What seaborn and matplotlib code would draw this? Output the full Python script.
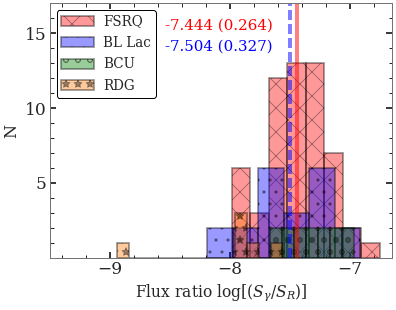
import numpy as np
import seaborn as sns
import matplotlib.pyplot as plt

# histogram ranges (min, max) and counts per bin
fsrq_range = (-7.986, -6.750)
fsrq_counts = [6, 3, 12, 13, 13, 7, 2, 1]
bllac_range = (-8.189, -6.914)
bllac_counts = [2, 2, 6, 3, 6, 2]
bcu_range = (-7.665, -6.970)
bcu_counts = [2, 2, 2, 2, 2, 2, 2]
rdg_range = (-8.939, -7.563)
rdg_counts = [1, 0, 0, 0, 0, 0, 0, 0, 0, 0, 3, 1, 0, 1]

labels = ['FSRQ', 'BL Lac', 'BCU', 'RDG']
colors = ['red', 'blue', 'green', 'tab:orange']
hatches = ['x', '.', 'o', '*']
means = [-7.444, -7.504]
stds = [0.264, 0.327]

sns.set_style('ticks')
plt.rcParams['font.family'] = ['DejaVu Serif']
plt.rcParams['mathtext.fontset'] = 'dejavuserif'
plt.rcParams['hatch.linewidth'] = 0.8

# 72 dpi so that 1 pt = 1 px (and hatch spacing matches)
fig = plt.figure(figsize=(396 / 72, 310 / 72), dpi=72)
ax = fig.add_axes([0.126, 0.168, 0.864, 0.822])

groups = [(fsrq_range, fsrq_counts), (bllac_range, bllac_counts),
          (bcu_range, bcu_counts), (rdg_range, rdg_counts)]
for (rng, counts), lab, col, h in zip(groups, labels, colors, hatches):
    edges = np.linspace(rng[0], rng[1], len(counts) + 1)
    centers = 0.5 * (edges[:-1] + edges[1:])
    sns.histplot(x=list(centers), weights=list(counts), bins=edges.tolist(),
                 ax=ax, color=col, alpha=0.4, edgecolor=(0, 0, 0, 0.4),
                 linewidth=1.8, hatch=h, label=lab)

ax.axvline(means[0], color='red', lw=4, alpha=0.5)
ax.axvline(means[1], color='blue', lw=4, alpha=0.5, ls=(0, (2.5, 1.0)))
ax.text(0.335, 0.912, '%.3f (%.3f)' % (means[0], stds[0]), color='red',
        fontsize=15, transform=ax.transAxes, va='center')
ax.text(0.335, 0.83, '%.3f (%.3f)' % (means[1], stds[1]), color='blue',
        fontsize=15, transform=ax.transAxes, va='center')

ax.set_xlim(-9.5, -6.65)
ax.set_ylim(0, 17)
ax.set_xticks([-9, -8, -7])
ax.set_xticks(np.arange(-9.4, -6.7, 0.2), minor=True)
ax.set_yticks([5, 10, 15])
ax.set_yticks(range(1, 17), minor=True)
ax.tick_params(which='both', direction='in', top=True, right=True, labelsize=17)
ax.tick_params(which='major', length=6, width=1.8)
ax.tick_params(which='minor', length=3.5, width=1.0)
for sp in ax.spines.values():
    sp.set_color('0.45')
    sp.set_linewidth(1.0)

ax.set_xlabel(r'Flux ratio $\log[(S_{\gamma}/S_{R})]$', fontsize=15.5)
ax.set_ylabel('N', fontsize=16)

leg = ax.legend(loc='upper left', fontsize=13.5, borderaxespad=0.5,
                borderpad=0.35, handlelength=2.4, handleheight=0.8,
                labelspacing=0.55, handletextpad=0.7, fancybox=True,
                framealpha=1)
leg.get_frame().set_edgecolor('black')

plt.savefig('out.png', dpi=72)
plt.close()
